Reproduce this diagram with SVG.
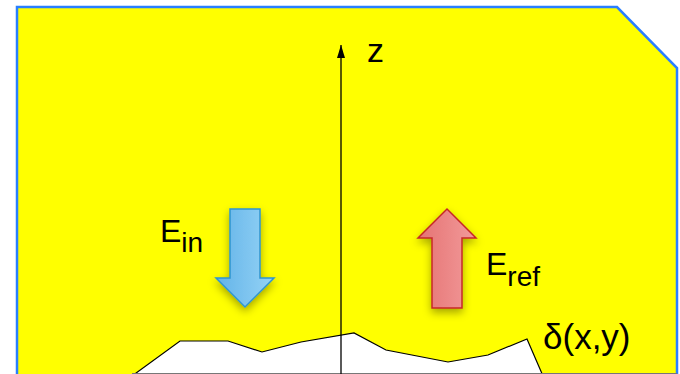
<svg xmlns="http://www.w3.org/2000/svg" width="680" height="374" viewBox="0 0 680 374">
<style>
text{font-family:"Liberation Sans",Arial,sans-serif;fill:#000}
.lbl{font-size:32px}
.sub{font-size:28px}
</style>
<defs>
<linearGradient id="gb" x1="0" y1="0" x2="1" y2="0"><stop offset="0" stop-color="#62b3e8"/><stop offset="1" stop-color="#95d3f6"/></linearGradient>
<linearGradient id="gr" x1="0" y1="0" x2="1" y2="0"><stop offset="0" stop-color="#e57373"/><stop offset="1" stop-color="#f29a9a"/></linearGradient>
<filter id="sh" x="-40%" y="-30%" width="180%" height="170%"><feDropShadow dx="0" dy="4" stdDeviation="4" flood-color="#000" flood-opacity="0.35"/></filter>
<marker id="ah" viewBox="0 0 13 8" refX="13" refY="4" markerWidth="13" markerHeight="8" markerUnits="userSpaceOnUse" orient="auto"><path d="M0,0 L13,4 L0,8 z" fill="#000"/></marker>
</defs>
<g id="block">
<polygon points="17,7 617,7 677,68 677,380 17,380" fill="#ffff00" stroke="#2a7fff" stroke-width="2.5"/>
</g>
<g id="surface">
<polygon points="132,376 180,341 228,341 262,352 301,342 354,333 386,350 448,362 488,355 527,339 543,376" fill="#ffffff" stroke="#000" stroke-width="1.2"/>
<line x1="132" y1="373.5" x2="677" y2="373.5" stroke="#777" stroke-width="1"/>
</g>
<g id="connectors">
<line x1="341" y1="374" x2="341" y2="45" stroke="#000" stroke-width="1.3" marker-end="url(#ah)"/>
</g>
<g id="axis-label"><text class="lbl" x="367" y="62" style="font-size:34px">z</text></g>
<g id="E_in">
<polygon points="230,209 260,209 260,278 274,278 245,307 216,278 230,278" fill="url(#gb)" stroke="#2e95d0" stroke-width="1.5" filter="url(#sh)"/>
<text x="160" y="242"><tspan class="lbl">E</tspan><tspan class="sub" dy="10">in</tspan></text>
</g>
<g id="E_ref">
<polygon points="447,209 476,238 462,238 462,308 432,308 432,238 418,238" fill="url(#gr)" stroke="#c62828" stroke-width="1.5" filter="url(#sh)"/>
<text x="486" y="275"><tspan class="lbl">E</tspan><tspan class="sub" dy="11">ref</tspan></text>
</g>
<g id="delta"><text class="lbl" x="543" y="349" style="font-size:35px">δ(x,y)</text></g>
</svg>
